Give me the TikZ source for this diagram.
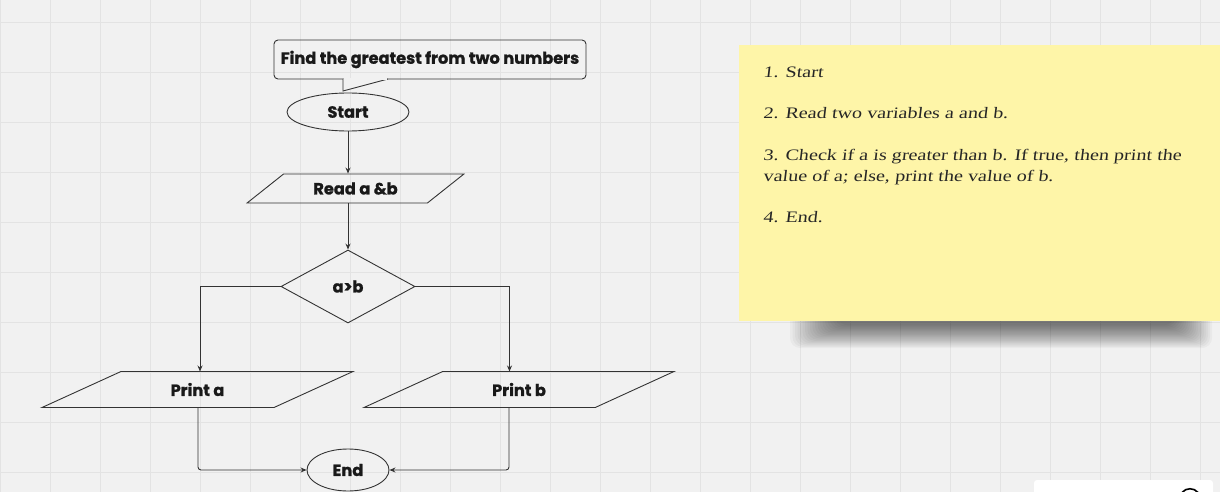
\documentclass[tikz,border=0pt]{standalone}
\usepackage{fontspec}
\usetikzlibrary{shapes.geometric,arrows.meta}
\newfontfamily\pop[BoldFeatures={FakeBold=1.2}]{Poppins}
\newfontfamily\hand[FakeStretch=1.26, FakeSlant=0.12]{Liberation Serif}
\definecolor{bgc}{HTML}{F1F1F1}
\definecolor{gridc}{HTML}{E3E3E3}
\definecolor{linec}{HTML}{333333}
\definecolor{notec}{HTML}{FEF5A8}
\tikzset{
  fc/.style={draw=linec, line width=0.9pt, font=\pop\bfseries\fontsize{16.2}{18}\selectfont, text=black!90, inner sep=0pt},
  ellbox/.style={fc, shape=ellipse},
  iobox/.style={fc, shape=trapezium, trapezium stretches=true},
  decbox/.style={fc, shape=diamond},
  conn/.style={draw=linec, line width=0.9pt, -{Stealth[length=6pt,width=5pt]}},
  plain/.style={draw=linec, line width=0.9pt},
  notetext/.style={anchor=base west, inner sep=0pt, font=\hand\fontsize{16}{18}\selectfont, text=black!85}
}
\begin{document}
\begin{tikzpicture}[x=1pt,y=-1pt]
\useasboundingbox (0,0) rectangle (1220,492);
\begin{scope}
\clip (0,0) rectangle (1220,492);
\fill[bgc] (0,0) rectangle (1220,492);
\foreach \x in {0,50,...,1200} \draw[gridc, line width=0.8pt] (\x,0) -- (\x,492);
\foreach \y in {22,72,...,472} \draw[gridc, line width=0.8pt] (0,\y) -- (1220,\y);
% sticky note shadow
\foreach \k in {0,...,19}
  \fill[black, opacity=0.03, rounded corners=10pt] (790+2.5*\k,312) rectangle (1212-2*\k,348-1.2*\k);
\fill[notec] (739,45) rectangle (1220,321);
% bottom right widget
\fill[white, rounded corners=3pt] (1034,480) rectangle (1213,500);
\draw[black, line width=1.6pt] (1182,492.5) .. controls (1186,487.5) and (1194,487.5) .. (1198,492.5);
\end{scope}

% note text
\node[notetext] (t1) at (763,78) {1. Start};
\node[notetext] (t2) at (763,119) {2. Read two variables a and b.};
\node[notetext] (t3) at (763,160) {3. Check if a is greater than b. If true, then print the};
\node[notetext] (t4) at (763,181) {value of a; else, print the value of b.};
\node[notetext] (t5) at (763,222) {4. End.};

% title callout
\node[fc, shape=rectangle, rounded corners=4pt, minimum width=312pt, minimum height=39pt] (title) at (430,59.5) {Find the greatest from two numbers};
\coordinate (tailL) at (343,79);
\coordinate (tailR) at (388,79);
\coordinate (tailT) at (343,91);
\draw[plain, fill=bgc] (tailL) -- (tailT) -- (tailR);
\draw[bgc, line width=1.2pt] ([xshift=0.9pt]tailL) -- ([xshift=-1.4pt]tailR);

% flowchart nodes
\node[ellbox, minimum width=122pt, minimum height=38pt] (start) at (348,112) {Start};
\node[iobox, trapezium left angle=29.6, trapezium right angle=150.4, minimum width=217pt, minimum height=29pt] (read) at (355.5,188.5) {Read a \&b};
\node[decbox, minimum width=134pt, minimum height=73pt] (dec) at (348,286.5) {a>b};
\node[iobox, trapezium left angle=25.3, trapezium right angle=154.7, minimum width=311pt, minimum height=36pt] (pa) at (197.5,389.5) {Print a};
\node[iobox, trapezium left angle=25.3, trapezium right angle=154.7, minimum width=310pt, minimum height=36pt] (pb) at (519,389.5) {Print b};
\node[ellbox, minimum width=82pt, minimum height=42pt] (end) at (348,470) {End};

% connectors
\draw[conn] (start.south) -- (start.south |- read.north);
\draw[conn] (dec.north |- read.south) -- (dec.north);
\coordinate (paIn) at (200,371.5);
\coordinate (pbIn) at (509.5,371.5);
\draw[conn] (dec.west) -| (paIn);
\draw[conn] (dec.east) -| (pbIn);
\coordinate (paOut) at (198,407.5);
\coordinate (pbOut) at (509,407.5);
\draw[conn, rounded corners=3pt] (paOut) |- (end.west);
\draw[conn, rounded corners=3pt] (pbOut) |- (end.east);
\end{tikzpicture}
\end{document}
